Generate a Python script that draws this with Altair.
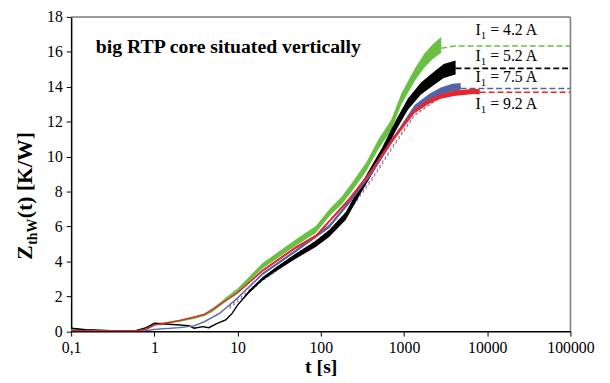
import altair as alt
import pandas as pd

# ---------------- data ----------------
series_names = ["I1 = 4.2 A", "I1 = 5.2 A", "I1 = 7.5 A", "I1 = 9.2 A"]
series_colors = ["#6abf45", "#000000", "#5563a8", "#e8262b"]

# green, I1 = 4.2 A (measured)
t_g = [0.1, 0.15, 0.3, 0.6, 0.8, 1.0, 1.5, 2.0, 3.0, 4.0, 5.0, 7.5, 10, 20, 50, 87, 126, 181, 238, 350, 492, 700, 930, 1350, 1760, 2200, 2800]
z_g = [0.1, 0.05, 0.03, 0.03, 0.12, 0.38, 0.5, 0.6, 0.78, 0.95, 1.2, 1.87, 2.3, 3.75, 5.07, 5.82, 6.77, 7.52, 8.27, 9.4, 10.7, 11.8, 13.3, 14.7, 15.5, 16.0, 16.4]
n_g = [0.01, 0.01, 0.01, 0.01, 0.02, 0.04, 0.05, 0.06, 0.08, 0.08, 0.1, 0.12, 0.14, 0.16, 0.18, 0.2, 0.2, 0.22, 0.24, 0.25, 0.28, 0.3, 0.32, 0.35, 0.4, 0.42, 0.45]

# black, I1 = 5.2 A (measured)
t_k = [0.1, 0.15, 0.3, 0.6, 0.8, 1.0, 1.5, 2.6, 3.0, 3.8, 4.5, 5.7, 7.2, 8.6, 10, 14, 20, 30, 50, 87, 126, 200, 312, 540, 800, 1115, 1600, 2310, 3000, 4170]
z_k = [0.17, 0.08, 0.03, 0.03, 0.2, 0.45, 0.4, 0.32, 0.17, 0.26, 0.2, 0.45, 0.64, 1.02, 1.49, 2.3, 3.0, 3.6, 4.3, 5.0, 5.6, 6.6, 8.27, 10.2, 11.8, 13.0, 13.9, 14.5, 14.9, 15.1]
n_k = [0.01] * 15 + [0.08, 0.1, 0.12, 0.15, 0.18, 0.2, 0.22, 0.25, 0.28, 0.3, 0.32, 0.35, 0.38, 0.4, 0.4]

# blue, I1 = 7.5 A (measured)
t_b = [0.1, 0.3, 0.6, 0.8, 1.0, 2.0, 3.0, 4.0, 6.0, 8.0, 10, 20, 50, 126, 217, 410, 708, 1340, 2000, 2770, 3800, 4790]
z_b = [0.03, 0.02, 0.02, 0.03, 0.1, 0.2, 0.3, 0.55, 1.0, 1.5, 1.9, 3.28, 4.6, 6.0, 7.35, 9.1, 10.85, 12.8, 13.4, 13.75, 13.95, 14.0]
n_b = [0.01] * 11 + [0.06, 0.08, 0.1, 0.1, 0.12, 0.12, 0.15, 0.18, 0.2, 0.22, 0.22]

# red, I1 = 9.2 A (measured)
t_r = [0.1, 0.3, 0.6, 0.8, 1.0, 2.0, 4.0, 7.5, 10, 20, 50, 87, 126, 217, 410, 708, 1340, 2000, 2770, 4000, 6890, 8130]
z_r = [0.02, 0.02, 0.02, 0.1, 0.35, 0.6, 0.95, 1.8, 2.2, 3.47, 4.79, 5.44, 6.29, 7.52, 9.21, 10.9, 12.6, 13.15, 13.45, 13.62, 13.74, 13.7]
n_r = [0.01] * 9 + [0.06, 0.07, 0.08, 0.08, 0.1, 0.1, 0.12, 0.12, 0.13, 0.14, 0.15, 0.15, 0.15]

# dashed (fitted) continuations to the end of the axis
d_t = [[2800, 4000, 100000], [4170, 100000], [4790, 100000], [8130, 100000]]
d_z = [[16.2, 16.33, 16.33], [15.05, 15.05], [13.9, 13.9], [13.68, 13.68]]

# dotted fitted curves visible just below the measured red / blue data
f_t = [8, 20, 50, 126, 217, 410, 708, 1340, 2770]
f_z_red = [1.4, 3.0, 4.35, 5.75, 6.95, 8.75, 10.5, 12.4, 13.4]
f_z_blue = [1.3, 2.9, 4.25, 5.65, 6.85, 8.65, 10.4, 12.35, 13.45]

# labels
label_main = ["= 4.2 A", "= 5.2 A", "= 7.5 A", "= 9.2 A"]
label_z = [16.97, 15.47, 14.25, 12.72]
label_t = [7210, 7210, 7210, 7210]

x_ticks = [0.1, 1, 10, 100, 1000, 10000, 100000]
y_ticks = [0, 2, 4, 6, 8, 10, 12, 14, 16, 18]

FONT = "Liberation Serif"
W, H = 506, 318.5

xs = alt.Scale(type="log", domain=[0.1, 100000], nice=False)
ys = alt.Scale(domain=[0, 18], nice=False)

x_axis = alt.Axis(values=x_ticks, grid=False, title="t [s]",
                  labelExpr="datum.value < 1 ? '0,1' : format(datum.value, 'd')",
                  labelFont=FONT, labelFontSize=16, labelColor="black", labelPadding=4,
                  tickColor="black", tickSize=5, domainColor="black", domainWidth=1.5,
                  titleFont=FONT, titleFontSize=20, titleFontWeight="bold", titleColor="black",
                  titlePadding=1, labelFlush=False, labelOverlap=False)
y_axis = alt.Axis(values=y_ticks, grid=False, title=None,
                  labelFont=FONT, labelFontSize=16, labelColor="black", labelPadding=4,
                  tickColor="black", tickSize=5, domainColor="black", domainWidth=1.5,
                  labelOverlap=False)


def X(field):
    return alt.X(field, type="quantitative", scale=xs, axis=x_axis)


def Y(field):
    return alt.Y(field, type="quantitative", scale=ys, axis=y_axis)


measured = [(t_g, z_g, n_g), (t_k, z_k, n_k), (t_b, z_b, n_b), (t_r, z_r, n_r)]

layers = []
# dashed fitted continuations first
for i, (ts, zs) in enumerate(zip(d_t, d_z)):
    df = pd.DataFrame({"t": ts, "z": zs})
    layers.append(alt.Chart(df).mark_line(color=series_colors[i], strokeWidth=1.6,
                                          strokeDash=[6, 3], clip=True).encode(
        x=X("t"), y=Y("z")))

# dotted fitted curves under the data
for zs, col in [(f_z_blue, series_colors[2]), (f_z_red, series_colors[3])]:
    df = pd.DataFrame({"t": f_t, "z": zs})
    layers.append(alt.Chart(df).mark_line(color=col, strokeWidth=1.2, strokeDash=[2, 3],
                                          opacity=0.8, clip=True).encode(
        x=X("t"), y=Y("z")))

for i, (ts, zs, ns) in enumerate(measured):
    df = pd.DataFrame({"t": ts, "z": zs, "n": ns})
    df["lo"] = df["z"] - df["n"]
    df["hi"] = df["z"] + df["n"]
    layers.append(alt.Chart(df).mark_area(color=series_colors[i], clip=True).encode(
        x=X("t"), y=Y("lo"), y2="hi"))
    layers.append(alt.Chart(df).mark_line(color=series_colors[i], strokeWidth=1.4, clip=True).encode(
        x=X("t"), y=Y("z")))

# series labels  "I" + subscript "1" + "= x A"
lab = pd.DataFrame({"t": label_t, "z": label_z, "txt": label_main})
layers.append(alt.Chart(lab).mark_text(text="I", font=FONT, fontSize=16, align="left",
                                       baseline="alphabetic", color="black").encode(
    x=X("t"), y=Y("z")))
layers.append(alt.Chart(lab).mark_text(text="1", font=FONT, fontSize=11, align="left",
                                       baseline="alphabetic", color="black", dx=5.5, dy=4).encode(
    x=X("t"), y=Y("z")))
layers.append(alt.Chart(lab).mark_text(font=FONT, fontSize=16, align="left",
                                       baseline="alphabetic", color="black", dx=15).encode(
    x=X("t"), y=Y("z"), text="txt:N"))

one = pd.DataFrame({"a": [0]})
# annotation text
layers.append(alt.Chart(one).mark_text(text="big RTP core situated vertically", font=FONT,
                                       fontSize=20, fontWeight="bold", align="left",
                                       baseline="alphabetic", color="black").encode(
    x=alt.value(25), y=alt.value(36.5)))

# y title pieces (rotated)
layers.append(alt.Chart(one).mark_text(text="Z", font=FONT, fontSize=22, fontWeight="bold",
                                       align="left", baseline="alphabetic", angle=270,
                                       color="black").encode(x=alt.value(-40), y=alt.value(246)))
layers.append(alt.Chart(one).mark_text(text="thW", font=FONT, fontSize=14, fontWeight="bold",
                                       align="left", baseline="alphabetic", angle=270,
                                       color="black").encode(x=alt.value(-35), y=alt.value(231)))
layers.append(alt.Chart(one).mark_text(text="(t) [K/W]", font=FONT, fontSize=22, fontWeight="bold",
                                       align="left", baseline="alphabetic", angle=270,
                                       color="black").encode(x=alt.value(-40), y=alt.value(204)))

# gray frame on top and right
layers.append(alt.Chart(one).mark_rule(color="#7f7f7f", strokeWidth=1.5).encode(
    x=alt.value(0), x2=alt.value(W), y=alt.value(0)))
layers.append(alt.Chart(one).mark_rule(color="#7f7f7f", strokeWidth=1.5).encode(
    x=alt.value(W), y=alt.value(0), y2=alt.value(H)))

chart = alt.layer(*layers).properties(
    width=W, height=H,
    autosize=alt.AutoSizeParams(type="none"),
    padding={"left": 64, "top": 6.5, "right": 32, "bottom": 50},
).configure_view(stroke=None).configure_axis(
    labelFont=FONT, titleFont=FONT
).configure(background="white")

chart.save("out.html", embed_options={"renderer": "svg", "actions": False})
